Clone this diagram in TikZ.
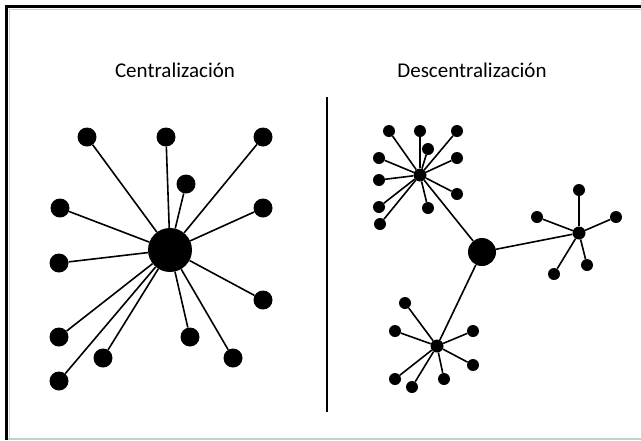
\documentclass[tikz,border=0pt]{standalone}
\usepackage{fontspec}
\setmainfont{Carlito}
\begin{document}
\begin{tikzpicture}[x=1pt,y=-1pt,
  bighub/.style={circle,fill=black,inner sep=0pt,minimum size=44pt},
  bigleaf/.style={circle,fill=black,inner sep=0pt,minimum size=19pt},
  midhub/.style={circle,fill=black,inner sep=0pt,minimum size=28pt},
  subhub/.style={circle,fill=black,inner sep=0pt,minimum size=13pt},
  smallleaf/.style={circle,fill=black,inner sep=0pt,minimum size=12pt},
  link/.style={line width=1.6pt,black},
  title/.style={font=\fontsize{21}{25}\selectfont,anchor=base}]
\useasboundingbox (0,0) rectangle (641,440);
\fill[white] (0,0) rectangle (641,440);
% frame
\draw[line width=1pt,gray!35] (9,9) -- (641,9);
\draw[line width=1pt,gray!35] (9,9) -- (9,440);
\draw[line width=1.2pt,gray!40] (8,439) -- (641,439);
\draw[line width=3pt,black] (5,6.5) -- (641,6.5);
\draw[line width=3pt,black] (6.5,5) -- (6.5,440);

% titles
\node[title] (t1) at (175,77) {Centralización};
\node[title] (t2) at (472,77) {Descentralización};

% divider
\coordinate (d1) at (327,97);
\coordinate (d2) at (327,412);
\draw[line width=1.8pt] (d1) -- (d2);

% centralised network
\node[bighub] (H) at (170,250) {};
\foreach \n/\x/\y in {l1/87/137, l2/166/137, l3/263/137, l4/186/184, l5/60/208,
  l6/263/208, l7/59/263, l8/263/300, l9/59/337, l10/103/358, l11/190/337,
  l12/233/358, l13/59/381} {
  \node[bigleaf] (\n) at (\x,\y) {};
  \draw[link] (H) -- (\n);
}

% decentralised network
\node[midhub] (R) at (482,252) {};
\node[subhub] (A) at (420,175) {};
\node[subhub] (B) at (579,233) {};
\node[subhub] (C) at (437,346) {};
\draw[link] (R) -- (A);
\draw[link] (R) -- (B);
\draw[link] (R) -- (C);
\foreach \n/\x/\y in {a1/389/131, a2/420/131, a3/457/131, a4/428/149, a5/379/158,
  a6/457/158, a7/379/180, a8/457/194, a9/379/207, a10/428/208, a11/380/224} {
  \node[smallleaf] (\n) at (\x,\y) {};
  \draw[link] (A) -- (\n);
}
\foreach \n/\x/\y in {b1/579/190, b2/537/217, b3/616/217, b4/554/274, b5/587/265} {
  \node[smallleaf] (\n) at (\x,\y) {};
  \draw[link] (B) -- (\n);
}
\foreach \n/\x/\y in {c1/405/303, c2/395/331, c3/473/331, c4/473/365, c5/395/379,
  c6/412/387, c7/444/379} {
  \node[smallleaf] (\n) at (\x,\y) {};
  \draw[link] (C) -- (\n);
}
\end{tikzpicture}
\end{document}
